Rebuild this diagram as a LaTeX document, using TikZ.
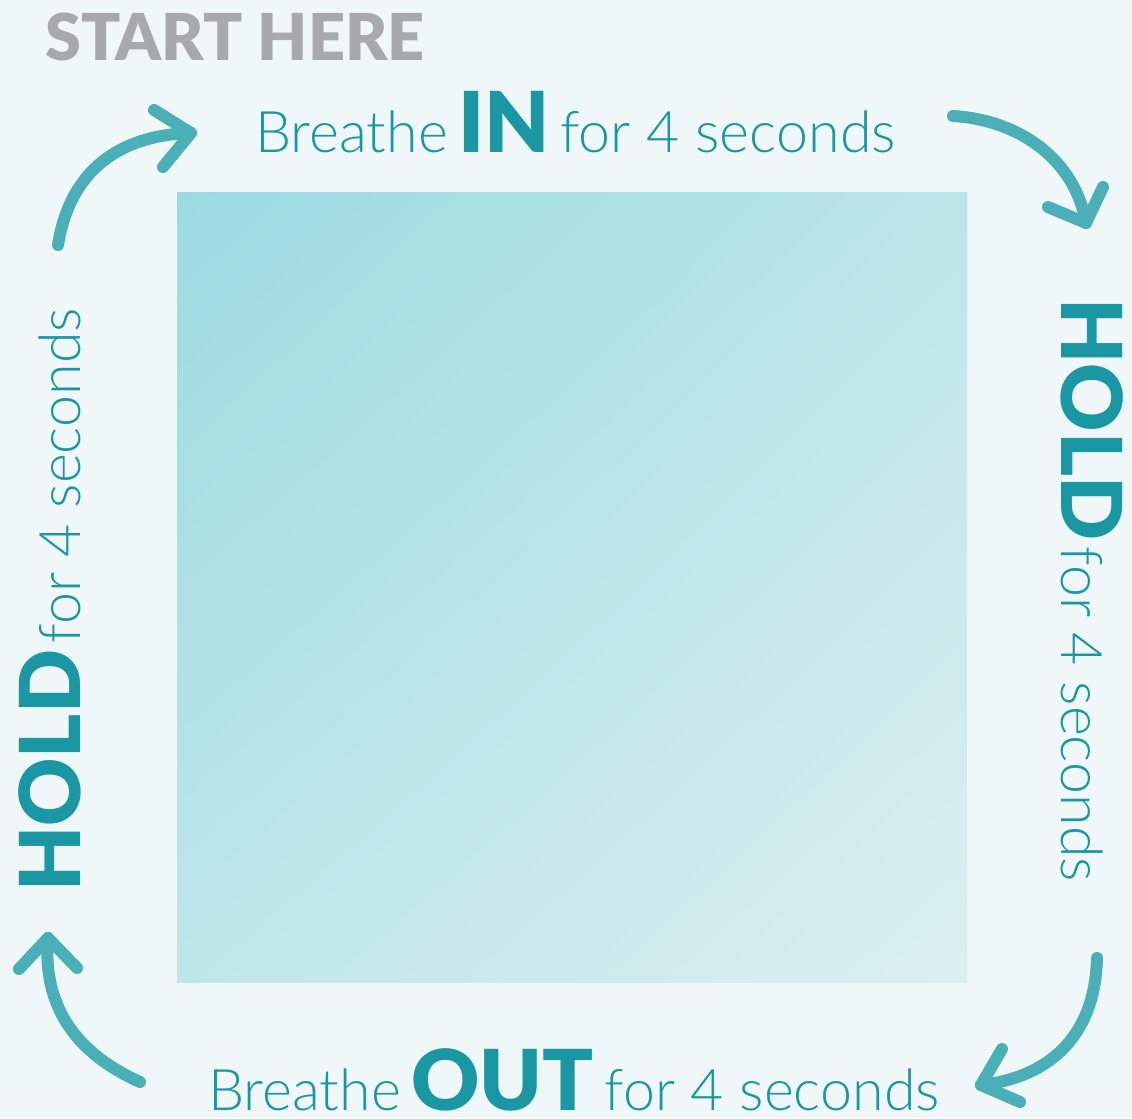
\documentclass[tikz,border=0pt]{standalone}
\usepackage{fontspec}
\setmainfont{Lato}
\newfontfamily\lightfont{Lato Light}
\newfontfamily\heavyfont{Lato Black}
\usetikzlibrary{positioning,shadings}

\definecolor{bgcol}{HTML}{EFF7F9}
\definecolor{teal}{HTML}{1A97A3}
\definecolor{arrowcol}{HTML}{4AAFB6}
\definecolor{greytext}{HTML}{A8A9AC}
\definecolor{sqtl}{HTML}{9BDBE0}
\definecolor{sqtr}{HTML}{BCE5E8}
\definecolor{sqbl}{HTML}{BEE6E9}
\definecolor{sqbr}{HTML}{DBEFF2}

\newcommand{\lightword}[1]{{\lightfont\fontsize{43}{43}\selectfont #1}}
\newcommand{\strongword}[1]{{\heavyfont\fontsize{63}{63}\selectfont #1}}
\newcommand{\gap}{\hspace{8pt}}

\begin{document}
\begin{tikzpicture}[x=0.75pt,y=-0.75pt,
    label/.style={inner sep=0pt,anchor=base west,text=teal},
    curl/.style={line width=9pt,line cap=round,line join=round,draw=arrowcol}]
    \fill[bgcol] (0,0) rectangle (1132,1118);
    \useasboundingbox (0,0) rectangle (1132,1118);

    % the box
    \shade[upper left=sqtl,upper right=sqtr,lower left=sqbl,lower right=sqbr]
        (177,192) rectangle (967,982);

    % texts
    \node (start) [inner sep=0pt,anchor=base west,text=greytext] at (45,60)
        {\heavyfont\fontsize{48.5}{48.5}\selectfont START HERE};
    \node (in) [label] at (255,152) {\lightword{Breathe}\gap\strongword{IN}\gap\lightword{for 4 seconds}};
    \node (holdr) [label,rotate=-90] at (1061,298) {\strongword{HOLD}\hspace{5pt}\lightword{for 4 seconds}};
    \node (out) [label] at (208,1110) {\lightword{Breathe}\gap\strongword{OUT}\gap\lightword{for 4 seconds}};
    \node (holdl) [label,rotate=90] at (80,892) {\strongword{HOLD}\hspace{5pt}\lightword{for 4 seconds}};

    % arrows
    \coordinate (a1) at (58,245);   \coordinate (t1) at (191,133);
    \coordinate (a2) at (953,116);  \coordinate (t2) at (1086,223);
    \coordinate (a3) at (1097,958); \coordinate (t3) at (981,1085);
    \coordinate (a4) at (140,1082); \coordinate (t4) at (48,938);

    \draw[curl] (a1) .. controls (70,170) and (120,135) .. (t1);
    \draw[curl] (154,110) -- (t1) -- (163,167);
    \draw[curl] (a2) .. controls (1020,120) and (1075,160) .. (t2);
    \draw[curl] (1048,207) -- (t2) -- (1103,187);
    \draw[curl] (a3) .. controls (1095,1040) and (1045,1078) .. (t3);
    \draw[curl] (1002,1049) -- (t3) -- (1020,1102);
    \draw[curl] (a4) .. controls (80,1055) and (42,1010) .. (t4);
    \draw[curl] (19,969) -- (t4) -- (77,968);
\end{tikzpicture}
\end{document}
